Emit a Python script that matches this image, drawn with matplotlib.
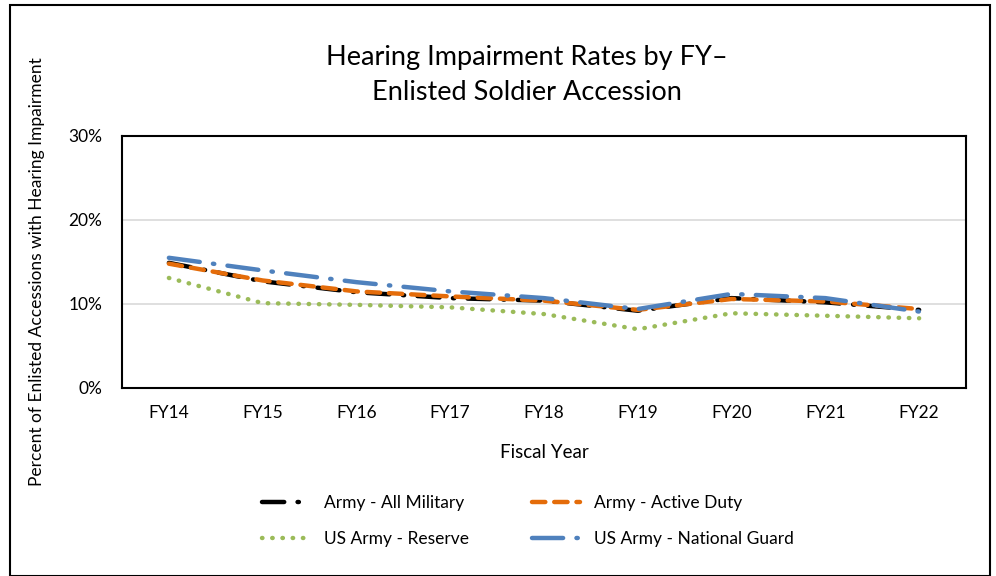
import numpy as np
import matplotlib.pyplot as plt
from matplotlib.patches import Rectangle

plt.rcParams['font.family'] = ['Lato', 'DejaVu Sans']

years = ['FY14', 'FY15', 'FY16', 'FY17', 'FY18', 'FY19', 'FY20', 'FY21', 'FY22']
all_military = [14.9, 12.7, 11.4, 10.7, 10.4, 9.2, 10.7, 10.2, 9.3]
active_duty = [14.8, 12.8, 11.5, 10.9, 10.4, 9.3, 10.6, 10.3, 9.4]
reserve = [13.1, 10.1, 9.9, 9.6, 8.8, 7.0, 8.9, 8.6, 8.3]
guard = [15.5, 14.0, 12.6, 11.5, 10.7, 9.4, 11.2, 10.7, 9.1]

fig = plt.figure(figsize=(9.96, 5.76), dpi=100)
ax = fig.add_axes([122/996, 1-388/576, (966-122)/996, (388-136)/576])

x = np.arange(len(years))
h1, = ax.plot(x, all_military, color='black', lw=3.2, dashes=(5, 3, 0.3, 3),
              dash_capstyle='round', label='Army - All Military')
h2, = ax.plot(x, active_duty, color='#E46C0A', lw=3.2, dashes=(3, 2),
              dash_capstyle='round', label='Army - Active Duty')
h3, = ax.plot(x, reserve, color='#9BBB59', lw=3.2, dashes=(0.1, 2.2),
              dash_capstyle='round', label='US Army - Reserve')
h4, = ax.plot(x, guard, color='#4F81BD', lw=3.2, dashes=(7, 3, 0.3, 3),
              dash_capstyle='round', label='US Army - National Guard')

ax.set_xlim(-0.5, len(years)-0.5)
ax.set_ylim(0, 30)
ax.set_yticks([0, 10, 20, 30])
ax.set_yticklabels(['0%', '10%', '20%', '30%'], fontsize=12.5)
ax.set_xticks(x)
ax.set_xticklabels(years, fontsize=12.5)
ax.tick_params(length=0, pad=12)
ax.tick_params(axis='y', pad=14)
ax.grid(axis='y', color='#d9d9d9', lw=1.2)
ax.set_axisbelow(True)
for s in ax.spines.values():
    s.set_linewidth(1.5)
    s.set_color('black')

ax.set_xlabel('Fiscal Year', fontsize=13.5, labelpad=17)
fig.text(37/996, 1-272/576, 'Percent of Enlisted Accessions with Hearing Impairment',
         rotation=90, ha='center', va='center', fontsize=12.5)
fig.text(527/996, 1-75/576, 'Hearing Impairment Rates by FY\u2013\nEnlisted Soldier Accession',
         ha='center', va='center', fontsize=19.5, linespacing=1.45)

# row-wise order like the original legend
fig.legend([h1, h3, h2, h4], [h.get_label() for h in [h1, h3, h2, h4]],
           loc='center', bbox_to_anchor=(528/996, 1-521/576), ncol=2, frameon=False,
           fontsize=12.5, handlelength=2.8, columnspacing=3.6, labelspacing=1.15)

fig.patches.append(Rectangle((10/996, 0), 980/996, 1-5/576, transform=fig.transFigure,
                             fill=False, edgecolor='black', lw=1.5))

fig.savefig('out.png', dpi=100)
